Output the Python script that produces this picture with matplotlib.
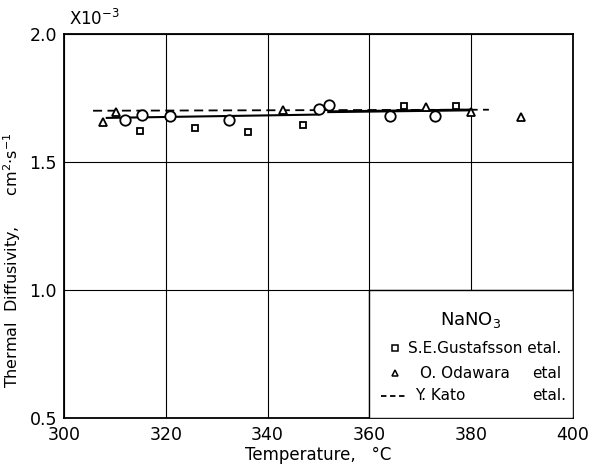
import matplotlib
matplotlib.use("Agg")
import matplotlib.pyplot as plt
from matplotlib.patches import Rectangle

# Data (thermal diffusivity, x1e-3 cm^2/s)
gus_T = [314.9, 325.7, 336.1, 346.9, 366.9, 377.1]
gus_a = [1.622, 1.632, 1.616, 1.645, 1.720, 1.720]

oda_T = [307.6, 310.2, 343.0, 371.1, 379.9, 389.9]
oda_a = [1.655, 1.694, 1.704, 1.713, 1.694, 1.675]

pres_T = [312.0, 315.4, 320.8, 332.5, 350.1, 352.0, 364.1, 372.9]
pres_a = [1.664, 1.685, 1.681, 1.664, 1.707, 1.723, 1.681, 1.681]

fit1_T = [308.4, 350.0]
fit1_a = [1.672, 1.685]
fit2_T = [352.0, 380.0]
fit2_a = [1.696, 1.703]

kato_T = [305.7, 383.5]
kato_a = [1.700, 1.704]

xticks = [300, 320, 340, 360, 380, 400]
yticks = [0.5, 1.0, 1.5, 2.0]

fig = plt.figure(figsize=(5.93, 4.71), dpi=100)
ax = fig.add_axes([0.108, 0.1125, 0.858, 0.8155])
ax.set_xlim(300, 400)
ax.set_ylim(0.5, 2.0)
ax.set_xticks(xticks)
ax.set_yticks(yticks)
ax.set_yticklabels(["0.5", "1.0", "1.5", "2.0"])
ax.tick_params(length=0, labelsize=12.5)
ax.tick_params(axis="x", pad=6)
ax.tick_params(axis="y", pad=5)
ax.grid(True, color="black", linewidth=0.8)
for s in ax.spines.values():
    s.set_linewidth(1.3)

ax.plot(kato_T, kato_a, color="black", linestyle=(0, (5, 3)), linewidth=1.3, zorder=3)
ax.plot(fit1_T, fit1_a, color="black", linewidth=1.5, zorder=3)
ax.plot(fit2_T, fit2_a, color="black", linewidth=2.0, zorder=3)
ax.plot(gus_T, gus_a, linestyle="none", marker="s", markersize=5,
        markerfacecolor="white", markeredgecolor="black", markeredgewidth=1.3, zorder=4)
ax.plot(oda_T, oda_a, linestyle="none", marker="^", markersize=5.5,
        markerfacecolor="white", markeredgecolor="black", markeredgewidth=1.3, zorder=4)
ax.plot(pres_T, pres_a, linestyle="none", marker="o", markersize=7.5,
        markerfacecolor="white", markeredgecolor="black", markeredgewidth=1.3, zorder=4)

# Legend box (white cell covering grid)
ax.add_patch(Rectangle((0.6, 0.0), 0.4, 1/3, transform=ax.transAxes,
                       facecolor="white", edgecolor="black", linewidth=1.0, zorder=5))
ax.text(0.8, 0.255, "NaNO$_3$", transform=ax.transAxes, ha="center", va="center",
        fontsize=13, zorder=6)
ax.plot([0.651], [0.181], transform=ax.transAxes, marker="s", markersize=4.5,
        markerfacecolor="white", markeredgecolor="black", markeredgewidth=1.1, zorder=6)
ax.text(0.677, 0.181, "S.E.Gustafsson etal.", transform=ax.transAxes, ha="left",
        va="center", fontsize=11, zorder=6)
ax.plot([0.651], [0.117], transform=ax.transAxes, marker="^", markersize=5,
        markerfacecolor="white", markeredgecolor="black", markeredgewidth=1.1, zorder=6)
ax.text(0.700, 0.117, "O. Odawara", transform=ax.transAxes, ha="left",
        va="center", fontsize=11, zorder=6)
ax.text(0.920, 0.117, "etal", transform=ax.transAxes, ha="left",
        va="center", fontsize=11, zorder=6)
ax.plot([0.622, 0.670], [0.058, 0.058], transform=ax.transAxes, color="black",
        linestyle=(0, (3, 2)), linewidth=1.3, zorder=6)
ax.text(0.690, 0.058, "Y. Kato", transform=ax.transAxes, ha="left",
        va="center", fontsize=11, zorder=6)
ax.text(0.920, 0.058, "etal.", transform=ax.transAxes, ha="left",
        va="center", fontsize=11, zorder=6)

ax.set_xlabel("Temperature,   °C", fontsize=12, labelpad=1)
ax.set_ylabel("Thermal  Diffusivity,      cm$^2$$\\cdot$s$^{-1}$", fontsize=11.5)
ax.yaxis.set_label_coords(-0.080, 0.41)
ax.text(0.01, 1.012, "X10$^{-3}$", transform=ax.transAxes, ha="left", va="bottom",
        fontsize=12)

fig.savefig("out.png", dpi=100)
